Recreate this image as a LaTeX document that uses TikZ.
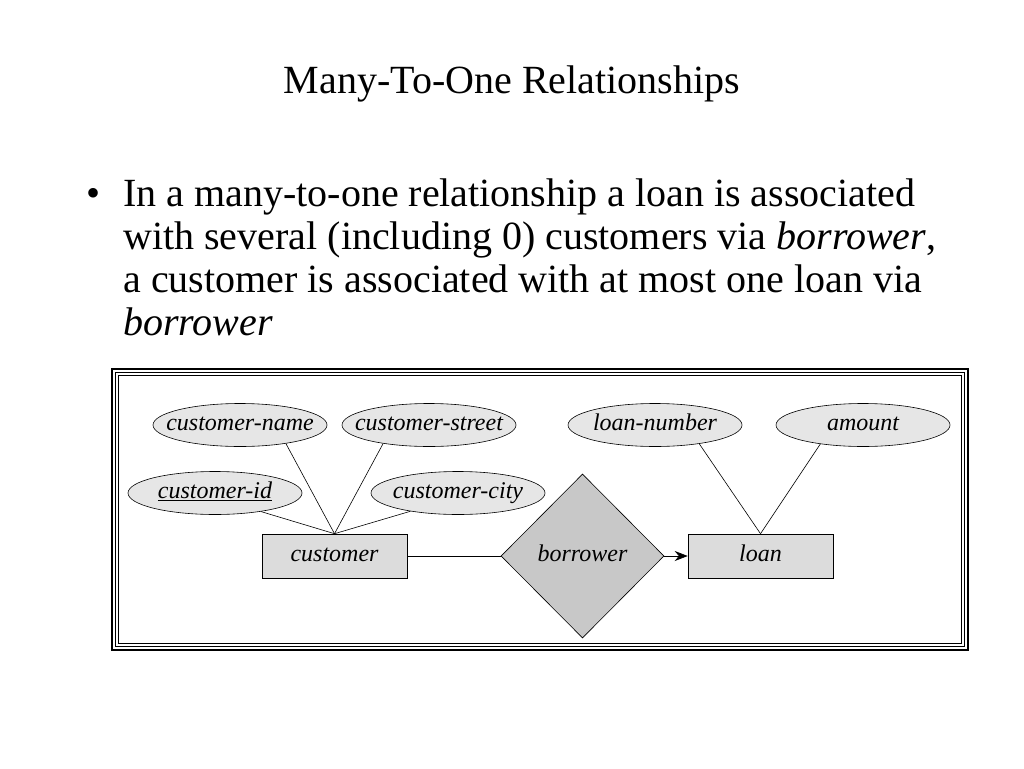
\documentclass[tikz,border=0pt]{standalone}
\usepackage{fontspec}
\setmainfont{Liberation Serif}
\usepackage{tikz}
\usetikzlibrary{shapes.geometric,arrows.meta,positioning}
\definecolor{attrgray}{RGB}{230,230,230}
\definecolor{entgray}{RGB}{220,220,220}
\definecolor{relgray}{RGB}{200,200,200}

\begin{document}
\begin{tikzpicture}[x=1pt,y=-1pt,line width=0.6pt,
	erfont/.style={font=\fontsize{24}{28}\selectfont\itshape,text height=16pt,text depth=5.5pt},
	attr/.style={ellipse,draw,fill=attrgray,minimum width=174pt,minimum height=43pt,inner sep=0pt,
		label={[erfont,inner sep=0pt]center:#1}},
	ent/.style={rectangle,draw,fill=entgray,minimum width=145pt,minimum height=44pt,inner sep=0pt,erfont},
	rel/.style={diamond,draw,fill=relgray,minimum width=163pt,minimum height=164pt,inner sep=0pt,erfont}]
	\useasboundingbox (0,0) rectangle (1024,768);
	% title and text
	\node[anchor=base] (title) at (512,93) {\fontsize{40}{48}\selectfont Many-To-One Relationships};
	\node[anchor=base] (dot) at (94,206) {\fontsize{40}{43}\selectfont •};
	\node[anchor=north west,inner sep=0pt,align=left,font=\fontsize{40}{43}\selectfont] (txt) at (123,178.7)
		{In a many-to-one relationship a loan is associated\\
		with several (including 0) customers via \textit{borrower},\\
		a customer is associated with at most one loan via\\
		\textit{borrower}};
	% frame
	\draw[line width=2.5pt] (112,369) rectangle (968,650);
	\draw[line width=1pt] (115.5,372.5) rectangle (964.5,646.5);
	\draw[line width=1pt] (118.5,375.5) rectangle (961.5,643.5);
	% E-R diagram
	\node[attr=customer-name] (cname) at (240,425) {};
	\node[attr=customer-street] (cstreet) at (429,425) {};
	\node[attr=\underline{customer-id}] (cid) at (215,493) {};
	\node[attr=customer-city] (ccity) at (458,493) {};
	\node[attr=loan-number] (lnum) at (655,425) {};
	\node[attr=amount] (amt) at (863,425) {};
	\node[ent] (cust) at (334.5,556) {customer};
	\node[ent] (loan) at (760.5,556) {loan};
	\node[rel] (borr) at (582.5,556) {borrower};
	\draw (cname.-22) -- (cust.north);
	\draw (cstreet.-158) -- (cust.north);
	\draw (cid.-22) -- (cust.north);
	\draw (ccity.-159) -- (cust.north);
	\draw (lnum.-23) -- (loan.north);
	\draw (amt.-156) -- (loan.north);
	\draw (cust) -- (borr);
	\draw[-{Stealth[length=13pt,width=10pt]}] (borr) -- (loan);
\end{tikzpicture}
\end{document}
